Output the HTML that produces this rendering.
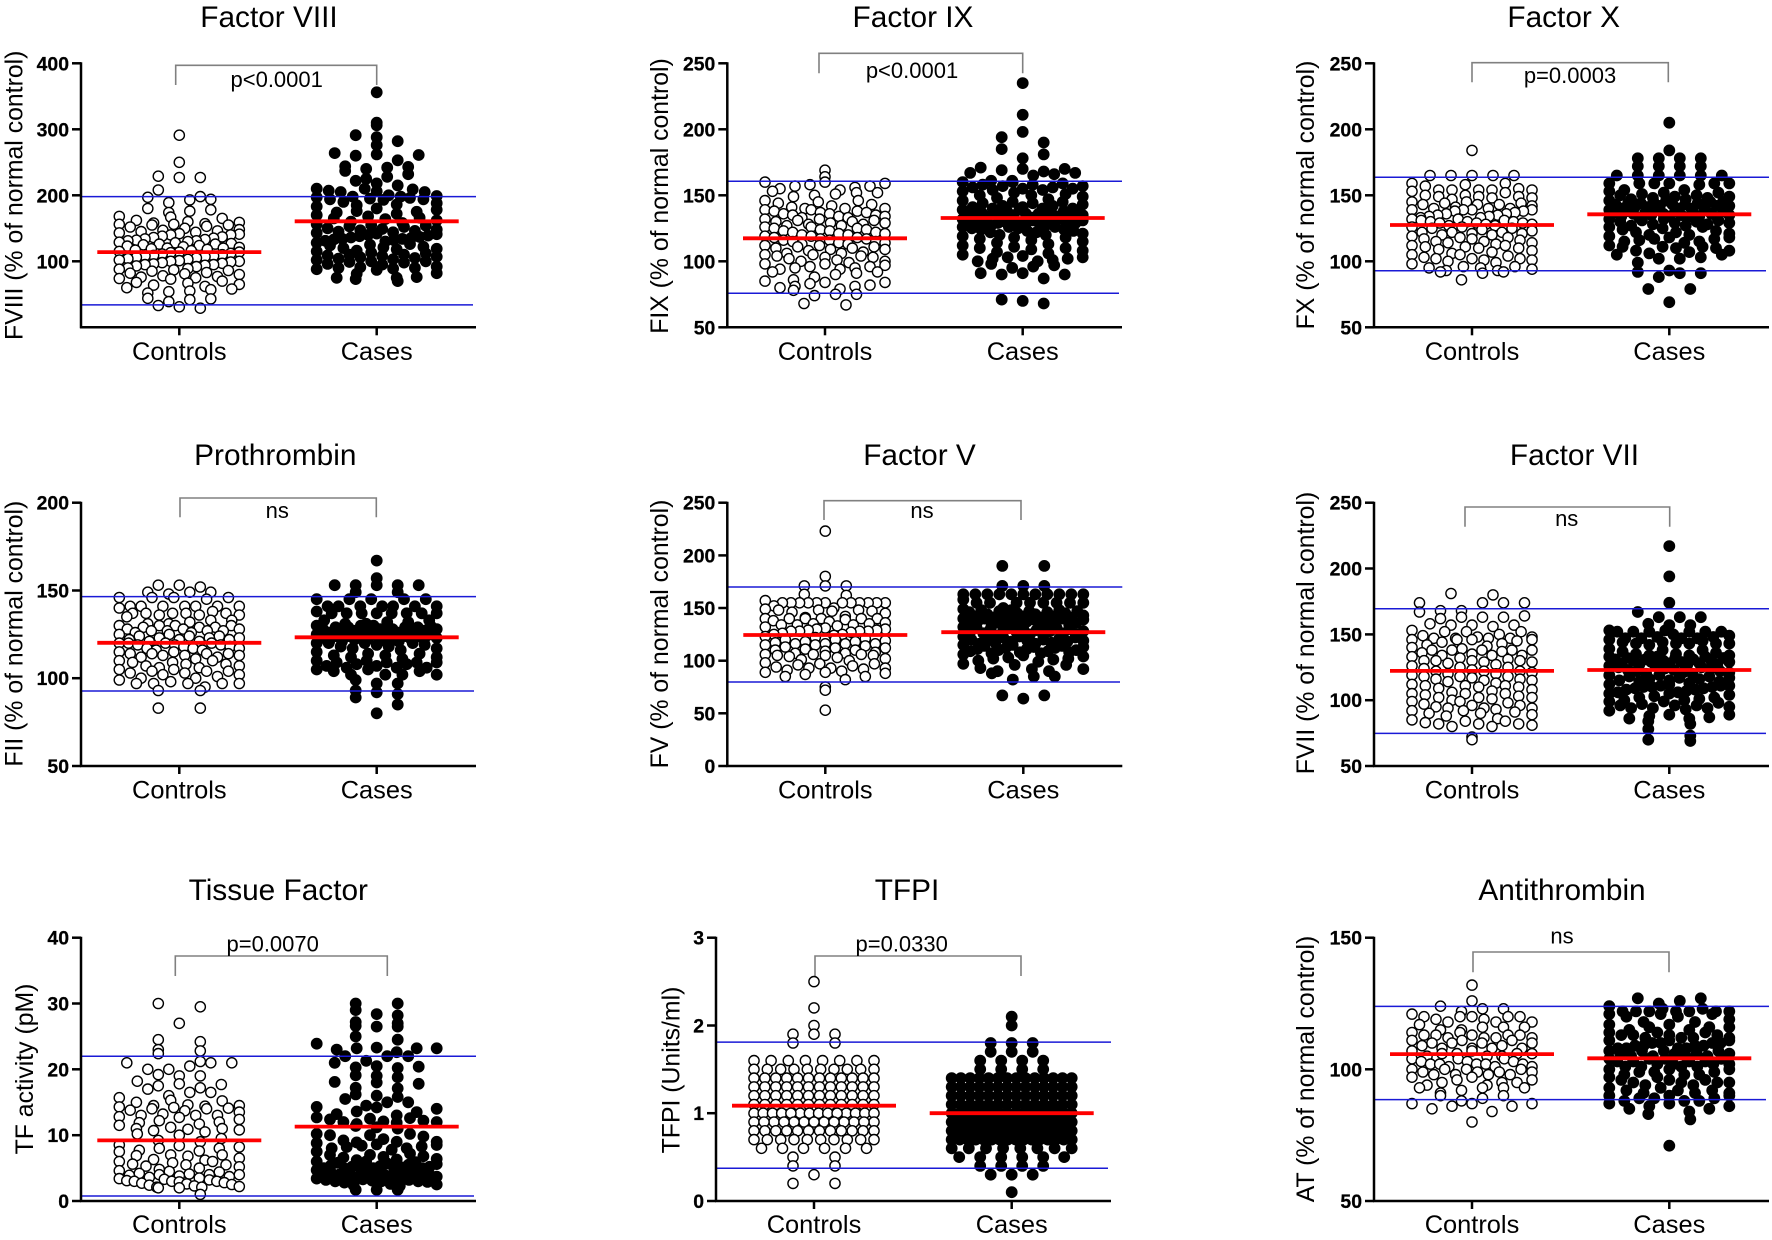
<!DOCTYPE html>
<html lang="en">
<head>
<meta charset="utf-8">
<title>Coagulation factors in controls and cases</title>
<style>
html,body{margin:0;padding:0;background:#fff;}
svg{display:block;}
text{font-family:"Liberation Sans",Arial,sans-serif;fill:#000;}
.title{font-size:29.8px;text-anchor:middle;}
.ylab{font-size:24.8px;text-anchor:middle;}
.xlab{font-size:25.4px;text-anchor:middle;}
.note{font-size:22px;text-anchor:middle;}
.tick{font-size:19.4px;font-weight:bold;text-anchor:end;stroke:#000;stroke-width:0.25;}
.bracket{fill:none;stroke:#808080;stroke-width:1.6;}
</style>
</head>
<body>
<svg id="figure" width="1772" height="1240" viewBox="0 0 1772 1240" xmlns="http://www.w3.org/2000/svg">
<rect width="1772" height="1240" fill="#fff"/>

<g id="fviii">
<text class="title" x="269" y="27">Factor VIII</text>
<text class="ylab" transform="translate(22.5 195.3) rotate(-90)">FVIII (% of normal control)</text>
<text class="xlab" x="179.3" y="360">Controls</text>
<text class="xlab" x="376.7" y="360">Cases</text>
<path class="bracket" d="M175.7 85V65.3H376.7V85"/>
<text class="note" x="276.7" y="87">p&lt;0.0001</text>
</g>

<g id="fix">
<text class="title" x="913" y="27">Factor IX</text>
<text class="ylab" transform="translate(668 196) rotate(-90)">FIX (% of normal control)</text>
<text class="xlab" x="825" y="360">Controls</text>
<text class="xlab" x="1022.7" y="360">Cases</text>
<path class="bracket" d="M819 73.3V53.3H1022.7V73.3"/>
<text class="note" x="912" y="78">p&lt;0.0001</text>
</g>

<g id="fx">
<text class="title" x="1563.7" y="27">Factor X</text>
<text class="ylab" transform="translate(1314 195) rotate(-90)">FX (% of normal control)</text>
<text class="xlab" x="1472" y="360">Controls</text>
<text class="xlab" x="1669.3" y="360">Cases</text>
<path class="bracket" d="M1472 82.3V62.7H1668.3V82.3"/>
<text class="note" x="1570" y="83">p=0.0003</text>
</g>

<g id="fii">
<text class="title" x="275.3" y="465">Prothrombin</text>
<text class="ylab" transform="translate(22.5 633.7) rotate(-90)">FII (% of normal control)</text>
<text class="xlab" x="179.3" y="798.5">Controls</text>
<text class="xlab" x="376.7" y="798.5">Cases</text>
<path class="bracket" d="M180 517.3V498H376.3V517.3"/>
<text class="note" x="277.3" y="518">ns</text>
</g>

<g id="fv">
<text class="title" x="919.5" y="465">Factor V</text>
<text class="ylab" transform="translate(668 634) rotate(-90)">FV (% of normal control)</text>
<text class="xlab" x="825.3" y="798.5">Controls</text>
<text class="xlab" x="1023.3" y="798.5">Cases</text>
<path class="bracket" d="M824 520V500.7H1021V520"/>
<text class="note" x="922" y="518">ns</text>
</g>

<g id="fvii">
<text class="title" x="1574.5" y="465">Factor VII</text>
<text class="ylab" transform="translate(1314 633) rotate(-90)">FVII (% of normal control)</text>
<text class="xlab" x="1472" y="798.5">Controls</text>
<text class="xlab" x="1669.3" y="798.5">Cases</text>
<path class="bracket" d="M1465 526.7V507H1669.7V526.7"/>
<text class="note" x="1566.7" y="526">ns</text>
</g>

<g id="tf">
<text class="title" x="278.3" y="900">Tissue Factor</text>
<text class="ylab" transform="translate(33 1069) rotate(-90)">TF activity (pM)</text>
<text class="xlab" x="179.3" y="1233">Controls</text>
<text class="xlab" x="376.7" y="1233">Cases</text>
<path class="bracket" d="M175.3 976V956H387.3V976"/>
<text class="note" x="272.7" y="951.7">p=0.0070</text>
</g>

<g id="tfpi">
<text class="title" x="907" y="900">TFPI</text>
<text class="ylab" transform="translate(679.3 1070) rotate(-90)">TFPI (Units/ml)</text>
<text class="xlab" x="814" y="1233">Controls</text>
<text class="xlab" x="1011.7" y="1233">Cases</text>
<path class="bracket" d="M815 976V956H1021V976"/>
<text class="note" x="901.7" y="951.7">p=0.0330</text>
</g>

<g id="at">
<text class="title" x="1562" y="900">Antithrombin</text>
<text class="ylab" transform="translate(1314 1069) rotate(-90)">AT (% of normal control)</text>
<text class="xlab" x="1472" y="1233">Controls</text>
<text class="xlab" x="1669.3" y="1233">Cases</text>
<path class="bracket" d="M1473 972.3V952H1669V972.3"/>
<text class="note" x="1562" y="943.3">ns</text>
</g>
</svg>

<script>
// ---------- Values ----------
const fviiiTicks=[100,200,300,400];
const fviiiRefs=[198,34];
const fviiiMeans=[114,160.6];
const fviiiControls=[291,250,229,227,227,208,198,197,194,193,189,180,178,176,174,168,167,165,162,160,159,158,157,156,156,155,155,153,152,150,148,147,146,145,144,143,142,141,140,140,138,137,136,135,134,133,132,131,131,130,129,128,127,126,126,125,124,123,122,121,120,120,119,118,117,116,115,114,114,113,112,111,110,109,108,108,107,106,105,104,103,102,101,100,100,99,98,97,96,95,95,94,93,92,90,89,88,87,86,85,83,82,81,80,78,77,76,75,74,73,70,68,67,65,64,62,60,58,57,55,54,52,44,43,42,39,33,31,29];
const fviiiCases=[356,310,306,291,288,282,276,264,262,261,260,253,244,243,242,240,237,232,228,225,222,218,215,210,210,209,207,206,205,205,200,199,198,198,197,196,195,194,194,193,190,188,186,185,183,180,178,176,175,174,172,170,168,166,165,164,162,160,158,156,155,154,153,152,150,149,148,147,146,145,144,143,142,141,140,139,138,137,136,135,134,134,133,132,131,130,128,126,125,124,122,121,120,119,118,116,115,113,112,110,110,109,108,107,106,105,104,103,102,100,100,99,98,96,95,92,91,90,90,89,88,87,82,81,76,75,75,73,70];

const fixTicks=[50,100,150,200,250];
const fixRefs=[160.6,75.8];
const fixMeans=[117.4,132.8];
const fixControls=[169,164,160,160,159,158,157,157,156,155,154,153,152,152,151,150,149,146,146,145,144,143,142,141,140,140,140,139,139,138,138,137,137,136,136,135,135,134,134,133,133,132,132,131,131,130,130,129,129,128,128,127,127,126,126,125,125,124,124,123,123,122,122,121,121,120,120,119,119,118,118,117,117,116,116,115,115,114,114,113,113,112,112,111,111,110,110,109,109,108,107,106,106,105,105,104,104,103,103,102,101,100,100,99,98,98,97,96,96,95,95,94,94,92,92,91,90,88,86,85,84,84,83,82,81,81,80,79,78,75,75,74,68,67];
const fixCases=[235,211,198,194,190,185,181,178,171,170,170,169,168,167,167,166,165,161,161,160,160,159,158,158,157,157,156,156,155,155,154,154,153,152,151,150,150,149,148,147,146,145,145,144,144,143,142,142,141,141,140,140,140,139,139,138,138,138,137,137,137,136,136,136,135,135,135,134,134,134,133,133,133,132,132,132,131,131,131,130,130,130,129,129,129,128,128,128,127,127,127,126,126,126,125,125,124,124,123,123,122,122,121,120,120,119,118,118,117,116,115,114,113,112,111,110,110,109,108,107,106,105,104,103,103,102,102,101,100,100,98,97,96,95,91,91,90,90,87,71,70,68];

const fxTicks=[50,100,150,200,250];
const fxRefs=[163.6,92.9];
const fxMeans=[127.5,135.6];
const fxControls=[184,165,165,165,165,165,159,159,158,157,155,154,154,154,154,154,153,152,150,150,149,149,149,148,148,147,145,145,144,144,143,143,143,142,141,140,140,140,139,139,139,139,138,138,137,136,136,135,135,134,134,133,133,132,132,131,131,130,130,130,129,129,129,128,128,127,127,126,126,125,125,124,123,122,122,122,121,121,120,120,119,118,118,117,117,116,115,115,114,114,113,112,112,111,111,110,110,109,108,107,106,105,105,104,103,102,102,102,101,101,100,99,98,96,96,95,95,94,93,93,92,92,91,86];
const fxCases=[205,184,178,178,178,178,172,172,172,172,165,165,165,165,165,165,159,159,159,159,159,159,158,154,154,153,152,152,151,150,150,149,149,148,148,147,147,146,146,145,145,145,144,144,144,143,143,143,142,142,142,141,141,141,140,140,140,139,139,139,138,138,138,137,137,137,136,136,136,135,135,135,134,134,134,133,133,133,132,132,131,131,130,130,129,129,128,128,127,127,126,126,125,124,123,122,122,121,120,120,119,118,118,117,117,116,115,115,114,112,111,111,111,110,110,108,108,107,106,105,105,103,102,102,99,93,92,91,91,88,79,79,69];

const fiiTicks=[50,100,150,200];
const fiiRefs=[146.5,92.7];
const fiiMeans=[120.2,123.3];
const fiiControls=[153,153,152,149,149,149,148,146,146,146,146,145,141,141,141,141,141,141,141,140,138,137,137,137,137,137,136,136,136,135,133,133,132,131,131,130,130,130,130,129,129,129,128,128,128,127,127,127,127,126,126,125,125,124,124,124,123,123,123,122,122,122,121,121,120,120,120,120,119,119,119,118,118,117,117,117,116,116,115,115,114,114,114,114,113,113,113,112,112,111,110,110,109,109,108,108,107,107,106,106,105,105,104,104,104,103,103,102,102,101,100,100,99,98,97,97,97,97,97,95,93,93,83,83];
const fiiCases=[167,157,153,153,153,153,153,149,149,145,145,145,145,145,141,141,141,141,141,141,141,138,137,137,137,137,137,137,137,137,133,133,132,132,131,131,130,130,130,130,129,129,129,129,128,128,128,128,127,127,127,127,126,126,126,126,125,125,125,125,124,124,124,124,123,123,123,123,122,122,122,122,121,121,121,121,120,120,120,120,119,119,118,118,117,117,116,115,114,114,113,113,112,112,111,110,110,109,109,109,109,108,108,107,107,106,106,106,105,105,104,104,102,102,102,102,99,97,97,93,92,91,89,85,80];

const fvTicks=[0,50,100,150,200,250];
const fvRefs=[170,79.8];
const fvMeans=[124.4,127];
const fvControls=[223,180,171,171,171,163,162,157,155,155,155,155,155,155,155,155,155,155,155,155,152,150,149,148,148,148,147,147,146,145,142,141,140,140,140,140,140,140,139,138,137,136,135,135,134,134,134,133,132,131,130,130,129,129,128,128,128,128,127,126,125,125,124,123,122,121,120,120,119,118,118,117,116,116,116,116,115,115,114,113,112,112,111,110,110,109,108,107,107,106,106,106,105,105,105,104,103,102,101,100,98,97,97,96,95,94,93,93,93,92,91,90,89,89,88,87,85,85,82,75,72,53];
const fvCases=[190,190,171,171,171,163,163,163,163,163,163,163,163,163,163,163,158,155,155,155,155,155,155,155,155,150,149,148,148,148,147,147,147,146,146,145,145,144,144,143,143,142,142,142,141,141,141,140,140,140,140,139,139,138,138,137,137,136,136,135,135,134,134,133,133,132,132,131,131,130,130,129,129,128,128,128,127,127,126,126,125,125,124,124,123,123,122,122,121,121,120,120,119,119,118,118,117,117,116,116,115,115,114,114,113,113,112,112,111,111,110,110,109,109,108,108,107,107,106,105,104,103,102,102,101,100,99,97,96,96,93,92,92,90,90,88,85,85,82,67,67,64];

const fviiTicks=[50,100,150,200,250];
const fviiRefs=[169.5,74.8];
const fviiMeans=[122.2,122.9];
const fviiControls=[181,180,174,174,174,174,168,168,167,164,163,163,163,162,158,157,157,157,156,153,152,152,152,150,149,148,148,147,147,147,147,146,146,146,146,145,144,143,142,141,140,139,138,138,138,138,138,137,136,135,134,134,134,133,132,131,130,130,130,130,129,129,128,127,126,125,125,124,123,122,122,122,121,120,120,119,118,118,118,117,116,116,115,115,114,113,112,111,111,111,110,110,109,108,107,106,105,105,105,104,103,102,102,102,101,100,99,99,98,97,96,96,95,94,94,94,93,92,92,91,90,90,89,88,86,85,84,84,83,82,82,82,81,80,80,72,70];
const fviiCases=[217,194,174,167,163,163,163,158,157,157,153,153,152,152,152,152,152,152,150,149,148,148,147,147,147,147,146,145,144,144,143,143,143,143,143,142,139,138,138,137,136,135,135,134,134,134,133,133,133,132,132,132,131,131,131,130,130,130,129,129,129,128,128,128,127,127,127,126,126,125,125,124,124,123,123,122,122,121,121,120,120,119,119,118,118,117,117,116,116,115,115,114,114,113,112,112,111,111,111,110,110,110,109,109,108,108,107,106,106,105,105,104,103,102,102,101,100,100,99,99,98,97,96,96,96,95,94,94,94,93,92,89,89,88,87,86,86,84,82,78,73,70,69];

const tfTicks=[0,10,20,30,40];
const tfRefs=[22,0.76];
const tfMeans=[9.2,11.3];
const tfControls=[30,29.5,27,24.5,24.2,23,22.8,22.4,21.2,21,21,21,20.5,20,20,19.2,19,19,18.2,17.8,17.7,17.5,17.2,17,16.5,16.5,16,15.7,15.3,15.2,15,14.6,14.5,14.5,14.4,14.3,14.2,14.1,14,14,13.8,13.7,13.5,13.2,13,13,13,12.8,12.7,12.4,12.2,12,11.9,11.7,11.5,11.2,11,11,10.9,10.8,10.7,10.5,10.2,10,9.5,9.2,9,8.5,8.4,8.2,8,8,7.7,7.6,7.5,7,7,6.9,6.8,6.5,6.3,6.2,6,6,5.8,5.6,5.5,5.5,5.3,5.2,5,4.8,4.6,4.5,4.4,4.2,4.1,4,4,4,3.9,3.8,3.7,3.6,3.5,3.4,3.3,3.2,3.1,3,3,3,2.9,2.8,2.7,2.6,2.5,2.4,2.3,2.2,2.1,2.1,2,2,1];
const tfCases=[30,30,29,28.4,28.2,27.2,27,26.6,26.5,26.5,25,24.5,23.9,23.3,23.2,23.2,23.2,23,22.6,22,22,22,21.3,21,20.5,20.4,20.3,20.2,19.1,19,18.8,18.1,18,17.8,17.2,17.1,16.2,16,15.8,15.5,15,15,14.5,14.3,14.2,14,13.6,13.5,13.2,13,12.7,12.6,12.5,12.4,12.2,12.1,12,12,11.9,11.7,11.4,11.2,11,10.2,10.2,10,10,9.8,9.4,9.2,9,9,8.9,8.8,8.6,8.5,8.4,8.3,8.2,8,8,7.8,7.5,7.2,7,7,6.8,6.7,6.6,6.4,6.3,6.2,6,6,5.9,5.8,5.7,5.6,5.5,5.5,5.4,5.3,5.2,5.2,5.1,5,5,5,4.9,4.8,4.7,4.6,4.5,4.5,4.4,4.3,4.2,4.2,4.1,4,4,4,3.9,3.8,3.7,3.6,3.5,3.4,3.3,3.2,3.2,3.1,3,3,3,2.9,2.8,2.6,2.5,2.4,2.3,1.7,1.7,1.7];

const tfpiTicks=[0,1,2,3];
const tfpiRefs=[1.81,0.373];
const tfpiMeans=[1.086,1.0];
const tfpiControls=[2.5,2.2,2.0,1.9,1.9,1.9,1.8,1.8,1.6,1.6,1.6,1.6,1.6,1.6,1.6,1.6,1.5,1.5,1.5,1.5,1.5,1.5,1.5,1.5,1.5,1.5,1.4,1.4,1.4,1.4,1.4,1.4,1.4,1.4,1.4,1.4,1.4,1.4,1.3,1.3,1.3,1.3,1.3,1.3,1.3,1.3,1.3,1.3,1.3,1.3,1.2,1.2,1.2,1.2,1.2,1.2,1.2,1.2,1.2,1.2,1.2,1.2,1.1,1.1,1.1,1.1,1.1,1.1,1.1,1.1,1.1,1.1,1.1,1.1,1.0,1.0,1.0,1.0,1.0,1.0,1.0,1.0,1.0,1.0,1.0,1.0,1.0,1.0,0.9,0.9,0.9,0.9,0.9,0.9,0.9,0.9,0.9,0.9,0.9,0.9,0.9,0.8,0.8,0.8,0.8,0.8,0.8,0.8,0.8,0.8,0.8,0.8,0.8,0.7,0.7,0.7,0.7,0.7,0.7,0.7,0.7,0.7,0.7,0.6,0.6,0.6,0.6,0.6,0.6,0.5,0.5,0.4,0.4,0.3,0.2,0.2];
const tfpiCases=[2.1,2.0,1.8,1.8,1.8,1.7,1.7,1.7,1.6,1.6,1.6,1.6,1.5,1.5,1.5,1.5,1.4,1.4,1.4,1.4,1.4,1.4,1.4,1.4,1.4,1.4,1.4,1.4,1.4,1.4,1.3,1.3,1.3,1.3,1.3,1.3,1.3,1.3,1.3,1.3,1.3,1.3,1.3,1.3,1.2,1.2,1.2,1.2,1.2,1.2,1.2,1.2,1.2,1.2,1.2,1.2,1.2,1.2,1.1,1.1,1.1,1.1,1.1,1.1,1.1,1.1,1.1,1.1,1.1,1.1,1.1,1.1,1.0,1.0,1.0,1.0,1.0,1.0,1.0,1.0,1.0,1.0,1.0,1.0,1.0,1.0,1.0,1.0,0.9,0.9,0.9,0.9,0.9,0.9,0.9,0.9,0.9,0.9,0.9,0.9,0.9,0.9,0.9,0.9,0.9,0.9,0.9,0.9,0.8,0.8,0.8,0.8,0.8,0.8,0.8,0.8,0.8,0.8,0.8,0.8,0.8,0.8,0.8,0.8,0.8,0.8,0.7,0.7,0.7,0.7,0.7,0.7,0.7,0.7,0.7,0.7,0.7,0.7,0.7,0.7,0.7,0.7,0.6,0.6,0.6,0.6,0.6,0.6,0.6,0.6,0.5,0.5,0.5,0.5,0.5,0.5,0.4,0.4,0.4,0.4,0.3,0.3,0.3,0.1];

const atTicks=[50,100,150];
const atRefs=[123.9,88.5];
const atMeans=[105.8,104.2];
const atControls=[132,126,124,123,123,122,121,120,120,120,120,120,119,119,118,118,118,117,116,116,116,115,115,114,114,113,113,113,113,113,112,112,112,112,111,111,111,110,110,110,110,109,109,108,108,108,108,107,107,106,106,106,106,105,105,105,104,104,104,103,103,103,102,102,102,102,102,101,101,101,100,100,100,100,99,99,99,99,98,98,98,98,97,97,96,96,95,95,95,94,94,93,93,93,93,92,91,90,90,89,88,87,87,87,86,86,85,84,80];
const atCases=[127,127,126,125,124,123,123,122,122,122,122,122,122,122,121,121,121,120,120,119,118,118,117,117,116,116,116,115,115,114,114,114,113,113,113,113,112,112,112,112,111,111,111,110,110,110,110,109,109,109,109,108,108,108,108,107,107,107,107,106,106,106,106,105,105,105,105,104,104,104,104,103,103,103,103,102,102,102,102,101,101,101,101,100,100,100,99,99,99,98,98,98,97,97,96,96,96,95,95,95,95,94,94,93,93,92,92,92,91,91,91,90,90,90,89,89,89,88,88,88,87,87,86,86,85,85,84,83,81,71];

// ---------- Panel layout ----------
const SVGNS='http://www.w3.org/2000/svg';
const layouts=[
 {id:'fviii',controls:fviiiControls,cases:fviiiCases,means:fviiiMeans,refs:fviiiRefs,ticks:fviiiTicks,dom:[0,400],L:81,R:476,T:63.3,B:327.3,c1:179.3,c2:376.7,refEnd:473},
 {id:'fix',controls:fixControls,cases:fixCases,means:fixMeans,refs:fixRefs,ticks:fixTicks,dom:[50,250],L:727.3,R:1122,T:63.3,B:327.3,c1:825,c2:1022.7,refEnd:1119},
 {id:'fx',controls:fxControls,cases:fxCases,means:fxMeans,refs:fxRefs,ticks:fxTicks,dom:[50,250],L:1374,R:1769,T:63.3,B:327.3,c1:1472,c2:1669.3,refEnd:1766},
 {id:'fii',controls:fiiControls,cases:fiiCases,means:fiiMeans,refs:fiiRefs,ticks:fiiTicks,dom:[50,200],L:81,R:476,T:502.7,B:766,c1:179.3,c2:376.7,refEnd:474},
 {id:'fv',controls:fvControls,cases:fvCases,means:fvMeans,refs:fvRefs,ticks:fvTicks,dom:[0,250],L:727.3,R:1122.3,T:502.7,B:766,c1:825.3,c2:1023.3,refEnd:1120},
 {id:'fvii',controls:fviiControls,cases:fviiCases,means:fviiMeans,refs:fviiRefs,ticks:fviiTicks,dom:[50,250],L:1374,R:1769,T:502.7,B:766,c1:1472,c2:1669.3,refEnd:1766},
 {id:'tf',controls:tfControls,cases:tfCases,means:tfMeans,refs:tfRefs,ticks:tfTicks,dom:[0,40],L:81,R:476,T:937.7,B:1201,c1:179.3,c2:376.7,refEnd:474},
 {id:'tfpi',controls:tfpiControls,cases:tfpiCases,means:tfpiMeans,refs:tfpiRefs,ticks:tfpiTicks,dom:[0,3],L:716,R:1111,T:937.7,B:1201,c1:814,c2:1011.7,refEnd:1108,bin:0.1},
 {id:'at',controls:atControls,cases:atCases,means:atMeans,refs:atRefs,ticks:atTicks,dom:[50,150],L:1374,R:1769,T:937.7,B:1201,c1:1472,c2:1669.3,refEnd:1766}
];
const HALF_WIDTH=60, BASE_STEP=21, BIN_PX=9, MEAN_HALF=82;

function make(tag,parent){
  const el=document.createElementNS(SVGNS,tag);
  parent.appendChild(el);
  return el;
}
function yScale(p){
  return function(v){return p.B-(v-p.dom[0])/(p.dom[1]-p.dom[0])*(p.B-p.T);};
}
// Column-scatter layout: values sharing a bin are spread across the column width.
function swarmOffsets(values,binSize){
  const groups=new Map();
  values.forEach(function(v,i){
    const k=Math.round(v/binSize);
    if(!groups.has(k))groups.set(k,[]);
    groups.get(k).push(i);
  });
  const out=new Array(values.length).fill(0);
  groups.forEach(function(idx){
    const n=idx.length;
    if(n===1)return;
    const step=n===2?BASE_STEP*2:Math.min(BASE_STEP,2*HALF_WIDTH/(n-1));
    let mult=Math.max(1,Math.round(n*0.382));
    while(gcd(mult,n)!==1)mult++;
    idx.forEach(function(i,k){
      out[i]=-(n-1)/2*step+((k*mult)%n)*step;
    });
  });
  return out;
}
function gcd(a,b){return b?gcd(b,a%b):a;}

function drawPoints(g,p,values,center,filled,y,binSize){
  const off=swarmOffsets(values,binSize);
  values.forEach(function(v,i){
    const c=make('circle',g);
    
    
    c.setAttribute('cx',(center+off[i]).toFixed(1));
    c.setAttribute('cy',y(v).toFixed(1));
    c.setAttribute('r',filled?'5.9':'5.1');
    c.setAttribute('fill',filled?'#000':'#fff');
    c.setAttribute('stroke','#000');
    c.setAttribute('stroke-width',filled?'0':'1.4');
  });
}

layouts.forEach(function(p){
  const g=document.getElementById(p.id);
  const y=yScale(p);
  const binSize=p.bin||BIN_PX/((p.B-p.T)/(p.dom[1]-p.dom[0]));

  drawPoints(g,p,p.controls,p.c1,false,y,binSize);
  drawPoints(g,p,p.cases,p.c2,true,y,binSize);

  p.refs.forEach(function(v,i){
    const l=make('line',g);
    
    
    l.setAttribute('x1',p.L);
    l.setAttribute('x2',i===0?p.R:p.refEnd);
    l.setAttribute('y1',y(v).toFixed(1));
    l.setAttribute('y2',y(v).toFixed(1));
    l.setAttribute('stroke','#1a1ad6');
    l.setAttribute('stroke-width','1.5');
  });

  [p.c1,p.c2].forEach(function(cx,i){
    const m=make('line',g);
    
    
    m.setAttribute('x1',cx-MEAN_HALF);
    m.setAttribute('x2',cx+MEAN_HALF);
    m.setAttribute('y1',y(p.means[i]).toFixed(1));
    m.setAttribute('y2',y(p.means[i]).toFixed(1));
    m.setAttribute('stroke','#f00');
    m.setAttribute('stroke-width','3.8');
  });

  const ya=make('line',g);
  
  
  ya.setAttribute('x1',p.L);
  ya.setAttribute('x2',p.L);
  ya.setAttribute('y1',p.T-1);
  ya.setAttribute('y2',p.B+1);
  ya.setAttribute('stroke','#000');
  ya.setAttribute('stroke-width','2.5');

  const xa=make('line',g);
  
  
  xa.setAttribute('x1',p.L-1);
  xa.setAttribute('x2',p.R);
  xa.setAttribute('y1',p.B);
  xa.setAttribute('y2',p.B);
  xa.setAttribute('stroke','#000');
  xa.setAttribute('stroke-width','2.5');

  p.ticks.forEach(function(v){
    const t=make('line',g);
    
    
    t.setAttribute('x1',p.L-9);
    t.setAttribute('x2',p.L);
    t.setAttribute('y1',y(v).toFixed(1));
    t.setAttribute('y2',y(v).toFixed(1));
    t.setAttribute('stroke','#000');
    t.setAttribute('stroke-width','2.5');

    const lab=make('text',g);
    
    
    lab.setAttribute('class','tick');
    lab.setAttribute('x',p.L-12);
    lab.setAttribute('y',(y(v)+7).toFixed(1));
    lab.textContent=String(v);
  });

  [p.c1,p.c2].forEach(function(cx){
    const t=make('line',g);
    
    
    t.setAttribute('x1',cx);
    t.setAttribute('x2',cx);
    t.setAttribute('y1',p.B);
    t.setAttribute('y2',p.B+8);
    t.setAttribute('stroke','#000');
    t.setAttribute('stroke-width','2.5');
  });
});
</script>
</body>
</html>
